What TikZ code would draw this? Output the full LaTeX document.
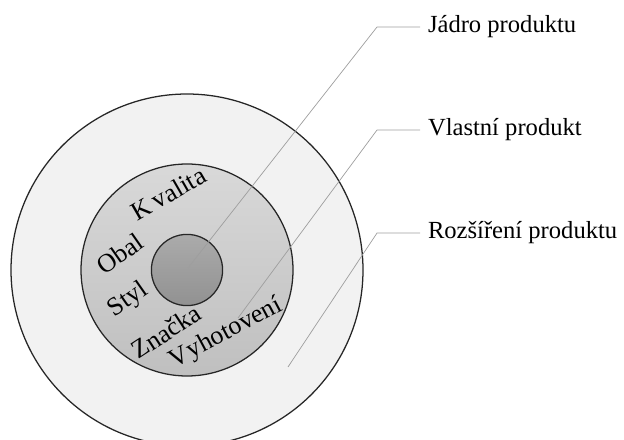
\documentclass[tikz,border=0pt]{standalone}
\usepackage{fontspec}
\setmainfont{Liberation Serif}

\tikzset{
  popis/.style={anchor=west, inner sep=0.2cm, outer sep=0pt, font=\fontsize{17.5}{21}\selectfont},
  slovo/.style={anchor=base, inner sep=0pt, font=\fontsize{18.5}{22}\selectfont},
  vodic/.style={draw=black!38, line width=0.5pt},
  obrys/.style={draw=black!85, line width=0.9pt}
}

\begin{document}
\begin{tikzpicture}
\useasboundingbox (-4.675,-4.225) rectangle (10.925,6.75);

% Cercle extérieur
\draw[obrys, fill=black!5] (0,0) circle (4.4);

% Cercle du milieu
\draw[obrys, top color=black!15, bottom color=black!25] (0,0) circle (2.65);

% Noyau
\draw[obrys, top color=black!33, bottom color=black!43] (0,0) circle (0.89);

% Mots dans l'anneau
\node[slovo, rotate=30] (kvalita) at (-0.35,1.725) {K\,valita};
\node[slovo, rotate=35] (obal) at (-1.55,0.225) {Obal};
\node[slovo, rotate=35] (styl) at (-1.375,-0.875) {Styl};
\node[slovo, rotate=33] (znacka) at (-0.4,-1.725) {Značka};
\node[slovo, rotate=28] (vyhotoveni) at (1.05,-1.725) {V\kern1pt yhotovení};

% Popisky
\node[popis] (jadro) at (5.825,6.075) {Jádro produktu};
\node[popis] (vlastni) at (5.825,3.5) {Vlastní produkt};
\node[popis] (rozsireni) at (5.825,0.925) {Rozšíření produktu};

% Body a zlomy
\coordinate (s1) at (0.025,0.05);
\coordinate (s2) at (1.275,-1.2);
\coordinate (s3) at (2.525,-2.425);
\coordinate (z1) at (4.75,6.075);
\coordinate (z2) at (4.75,3.5);
\coordinate (z3) at (4.75,0.925);

% Vodicí čáry
\draw[vodic] (s1) -- (z1) -- (jadro.west);
\draw[vodic] (s2) -- (z2) -- (vlastni.west);
\draw[vodic] (s3) -- (z3) -- (rozsireni.west);

\end{tikzpicture}
\end{document}
